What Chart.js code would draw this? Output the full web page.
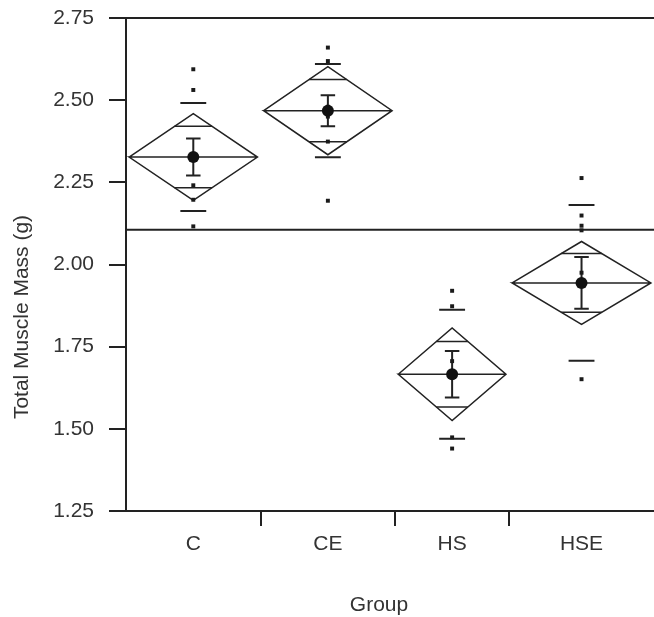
<!DOCTYPE html>
<html>
<head>
<meta charset="utf-8">
<script src="https://cdn.jsdelivr.net/npm/chart.js@4.4.0/dist/chart.umd.min.js"></script>
<style>
  html, body { margin: 0; padding: 0; background: #fff; }
  #wrap { width: 654px; height: 617px; }
</style>
</head>
<body>
<div id="wrap"><canvas id="massChart" width="654" height="617"></canvas></div>
<script>
const groups = ['C', 'CE', 'HS', 'HSE'];
const groupN = [13, 13, 11, 14];
const means = [2.327, 2.468, 1.666, 1.944];
const ci95 = [0.132, 0.134, 0.141, 0.126];
const stdErr = [0.056, 0.047, 0.071, 0.079];
const stdDev = [0.164, 0.142, 0.196, 0.237];
const grandMean = 2.106;
const obsC = [2.594, 2.531, 2.241, 2.197, 2.116];
const obsCE = [2.660, 2.619, 2.480, 2.450, 2.374, 2.194];
const obsHS = [1.920, 1.873, 1.706, 1.474, 1.440];
const obsHSE = [2.263, 2.149, 2.118, 2.104, 1.975, 1.651];
const observations = [obsC, obsCE, obsHS, obsHSE];
const yTicks = [1.25, 1.50, 1.75, 2.00, 2.25, 2.50, 2.75];

const ink = '#222';
const textInk = '#333';
const fontFamily = '"Liberation Sans", Arial, sans-serif';

// group boundaries along the x axis (width follows group size)
const edges = [0];
groupN.forEach(n => edges.push(edges[edges.length - 1] + n));
const centers = groups.map((g, i) => (edges[i] + edges[i + 1]) / 2);
const xMax = edges[edges.length - 1];

const diamondPts = [];
const overlapPts = [];
const errPts = [];
const sdPts = [];
const cap = 0.7;
const sdHalf = 1.25;
const k = Math.SQRT1_2;

groups.forEach((g, i) => {
    const L = edges[i] + 0.3, R = edges[i + 1] - 0.3, c = centers[i];
    const m = means[i], h = ci95[i];
    diamondPts.push({x: L, y: m}, {x: c, y: m + h}, {x: R, y: m}, {x: c, y: m - h},
        {x: L, y: m}, {x: R, y: m}, {x: c, y: null});

    const w = (R - L) / 2 * (1 - k);
    overlapPts.push({x: c - w, y: m + h * k}, {x: c + w, y: m + h * k}, {x: c, y: null});
    overlapPts.push({x: c - w, y: m - h * k}, {x: c + w, y: m - h * k}, {x: c, y: null});

    const top = m + stdErr[i], bot = m - stdErr[i];
    errPts.push({x: c - cap, y: top}, {x: c + cap, y: top}, {x: c, y: top}, {x: c, y: bot},
        {x: c - cap, y: bot}, {x: c + cap, y: bot}, {x: c, y: null});

    sdPts.push({x: c - sdHalf, y: m + stdDev[i]}, {x: c + sdHalf, y: m + stdDev[i]}, {x: c, y: null});
    sdPts.push({x: c - sdHalf, y: m - stdDev[i]}, {x: c + sdHalf, y: m - stdDev[i]}, {x: c, y: null});
});

const obsPts = [];
observations.forEach((list, i) => list.forEach(v => obsPts.push({x: centers[i], y: v})));
const meanPts = means.map((m, i) => ({x: centers[i], y: m}));

const lineSet = (data, width) => ({
    data: data,
    showLine: true,
    borderColor: ink,
    borderWidth: width,
    pointRadius: 0,
    fill: false,
    tension: 0,
    spanGaps: false
});

const titlePlugin = {
    id: 'axisTitles',
    afterDraw(chart) {
        const ctx = chart.ctx;
        ctx.save();
        ctx.fillStyle = textInk;
        ctx.font = '21px ' + fontFamily;
        ctx.textAlign = 'center';
        ctx.textBaseline = 'middle';
        ctx.fillText('Group', 379, 605);
        ctx.translate(22, 317);
        ctx.rotate(-Math.PI / 2);
        ctx.fillText('Total Muscle Mass (g)', 0, 0);
        ctx.restore();
    }
};

const isInner = v => edges.slice(1, -1).some(e => Math.abs(e - v) < 1e-6);

new Chart(document.getElementById('massChart').getContext('2d'), {
    type: 'scatter',
    data: {
        datasets: [
            {
                data: meanPts,
                pointRadius: 6,
                pointStyle: 'circle',
                backgroundColor: '#111',
                borderColor: '#111',
                borderWidth: 0
            },
            {
                data: obsPts,
                pointRadius: 2.8,
                pointStyle: 'rect',
                backgroundColor: '#1a1a1a',
                borderColor: '#1a1a1a',
                borderWidth: 0
            },
            lineSet(errPts, 2),
            lineSet(sdPts, 2),
            lineSet(overlapPts, 1.5),
            lineSet(diamondPts, 1.5),
            lineSet([{x: 0, y: grandMean}, {x: xMax, y: grandMean}], 2)
        ]
    },
    options: {
        responsive: false,
        animation: false,
        layout: { autoPadding: false, padding: { top: 18, right: 0, bottom: 0, left: 0 } },
        plugins: {
            legend: { display: false },
            tooltip: { enabled: false }
        },
        scales: {
            x: {
                type: 'linear',
                min: 0,
                max: xMax,
                afterBuildTicks: scale => {
                    const vals = [];
                    edges.forEach((e, i) => {
                        vals.push(e);
                        if (i < centers.length) vals.push(centers[i]);
                    });
                    scale.ticks = vals.map(v => ({value: v}));
                },
                afterFit: scale => {
                    scale.height = 106;
                    scale.paddingLeft = 0;
                    scale.paddingRight = 0;
                },
                ticks: {
                    autoSkip: false,
                    maxRotation: 0,
                    padding: 6,
                    color: textInk,
                    font: { size: 21, family: fontFamily },
                    callback: value => {
                        const i = centers.findIndex(c => Math.abs(c - value) < 1e-6);
                        return i >= 0 ? groups[i] : '';
                    }
                },
                grid: {
                    drawOnChartArea: false,
                    tickLength: 15,
                    lineWidth: 2,
                    tickColor: ctx => (ctx.tick && isInner(ctx.tick.value)) ? ink : 'rgba(0,0,0,0)'
                },
                border: { display: true, color: ink, width: 2 }
            },
            y: {
                type: 'linear',
                min: 1.25,
                max: 2.75,
                afterBuildTicks: scale => {
                    scale.ticks = yTicks.map(v => ({value: v}));
                },
                afterFit: scale => {
                    scale.width = 126;
                    scale.paddingTop = 0;
                    scale.paddingBottom = 0;
                },
                ticks: {
                    padding: 15,
                    color: textInk,
                    font: { size: 21, family: fontFamily },
                    callback: value => Number(value).toFixed(2)
                },
                grid: {
                    tickLength: 17,
                    lineWidth: 2,
                    color: ctx => (ctx.tick && Math.abs(ctx.tick.value - 2.75) < 1e-6) ? ink : 'rgba(0,0,0,0)',
                    tickColor: ink
                },
                border: { display: true, color: ink, width: 2 }
            }
        }
    },
    plugins: [titlePlugin]
});
</script>
</body>
</html>
